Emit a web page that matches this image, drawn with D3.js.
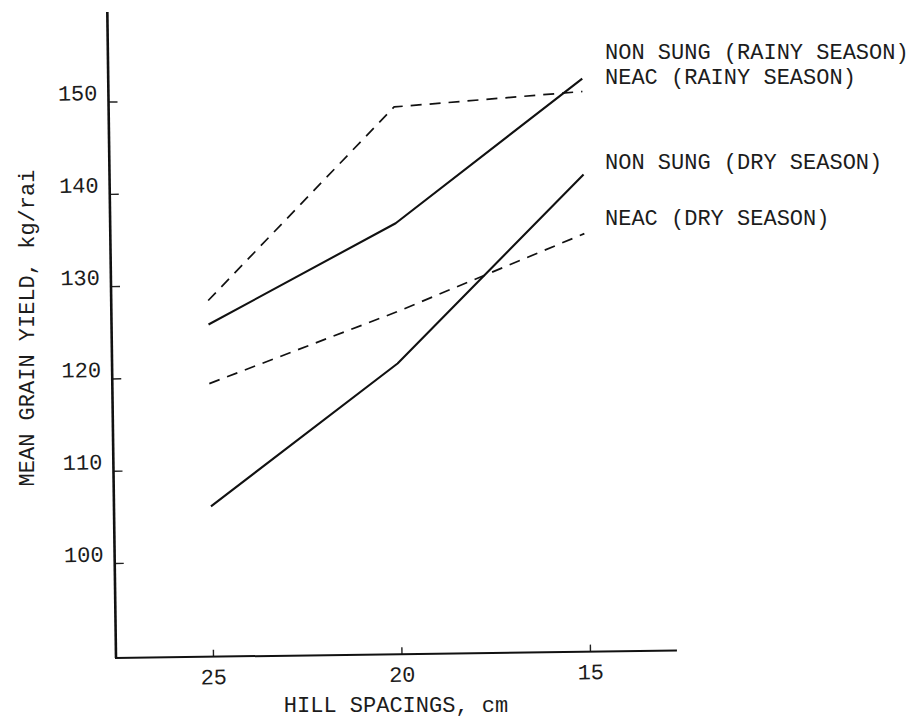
<!DOCTYPE html>
<html>
<head>
<meta charset="utf-8">
<script src="https://cdn.jsdelivr.net/npm/d3@7"></script>
<style>
  body { margin: 0; background: #fff; }
  text { font-family: "Liberation Mono", "Courier New", monospace; fill: #1c1c1c; }
</style>
</head>
<body>
<div class="canvas"></div>
<script>
// data
const spacings = [25, 20, 15];
const yTicks = [100, 110, 120, 130, 140, 150];
const seriesNames = ['NON SUNG (RAINY SEASON)', 'NEAC (RAINY SEASON)', 'NON SUNG (DRY SEASON)', 'NEAC (DRY SEASON)'];
const nonSungRainy = [125.7, 136.4, 151.8];
const neacRainy = [128.3, 149.0, 150.4];
const nonSungDry = [106.0, 121.2, 141.4];
const neacDry = [119.3, 126.8, 135.0];

const svg = d3.select('.canvas')
  .append('svg')
  .attr('width', 918)
  .attr('height', 720);

// the scan is a little tilted, so the plot group is rotated a touch
const graphWidth = 561;
const graphHeight = 646;
const graph = svg.append('g')
  .attr('transform', 'translate(116, 658) rotate(-0.77)');

//scales (origin of the group is the axis corner)
const x = d3.scaleLinear()
  .domain([25, 15])
  .range([97, 474]);
const y = d3.scaleLinear()
  .domain([100, 150])
  .range([-95, -556.5]);

//axes, ticks pointing inwards like the typed original
const xAxis = d3.axisBottom(x)
  .tickValues(spacings)
  .tickSizeInner(-7)
  .tickSizeOuter(0)
  .tickPadding(12);
const yAxis = d3.axisLeft(y)
  .tickValues(yTicks)
  .tickSizeInner(-9)
  .tickSizeOuter(0)
  .tickPadding(11);

const xAxisGroup = graph.append('g').call(xAxis);
const yAxisGroup = graph.append('g').call(yAxis);

[xAxisGroup, yAxisGroup].forEach(g => {
  g.select('.domain').remove();
  g.selectAll('line').attr('stroke', '#222').attr('stroke-width', 1.4);
  g.selectAll('text').attr('font-size', 22).attr('font-family', '"Liberation Mono", monospace').attr('fill', '#1c1c1c');
});
yAxisGroup.selectAll('text').attr('dy', -2);

graph.append('line')
  .attr('x1', 0).attr('y1', 0)
  .attr('x2', 0).attr('y2', -graphHeight)
  .attr('stroke', '#111')
  .attr('stroke-width', 2.6);
graph.append('line')
  .attr('x1', -1).attr('y1', 0)
  .attr('x2', graphWidth).attr('y2', 0)
  .attr('stroke', '#111')
  .attr('stroke-width', 2);

//lines
const series = [
  { name: seriesNames[0], values: nonSungRainy, dashed: false },
  { name: seriesNames[1], values: neacRainy, dashed: true },
  { name: seriesNames[2], values: nonSungDry, dashed: false },
  { name: seriesNames[3], values: neacDry, dashed: true }
];

const line = d3.line()
  .x((d, i) => x(spacings[i]))
  .y(d => y(d));

graph.selectAll('path.series')
  .data(series)
  .enter()
  .append('path')
  .attr('class', 'series')
  .attr('d', d => line(d.values))
  .attr('fill', 'none')
  .attr('stroke', '#111')
  .attr('stroke-width', d => d.dashed ? 1.7 : 2.1)
  .attr('stroke-dasharray', d => d.dashed ? '11,8' : null)
  .attr('stroke-linejoin', 'round');

//typed labels on the right
const labelY = [52, 77, 162, 218];
svg.selectAll('text.label')
  .data(series)
  .enter()
  .append('text')
  .attr('class', 'label')
  .attr('x', 605)
  .attr('y', (d, i) => labelY[i])
  .attr('dy', '0.32em')
  .attr('font-size', 22)
  .text(d => d.name);

//axis titles
svg.append('text')
  .attr('x', 396)
  .attr('y', 705)
  .attr('dy', '0.32em')
  .attr('text-anchor', 'middle')
  .attr('font-size', 22)
  .text('HILL SPACINGS, cm');

svg.append('text')
  .attr('transform', 'translate(27, 328) rotate(-90)')
  .attr('dy', '0.32em')
  .attr('text-anchor', 'middle')
  .attr('font-size', 22)
  .text('MEAN GRAIN YIELD, kg/rai');
</script>
</body>
</html>
